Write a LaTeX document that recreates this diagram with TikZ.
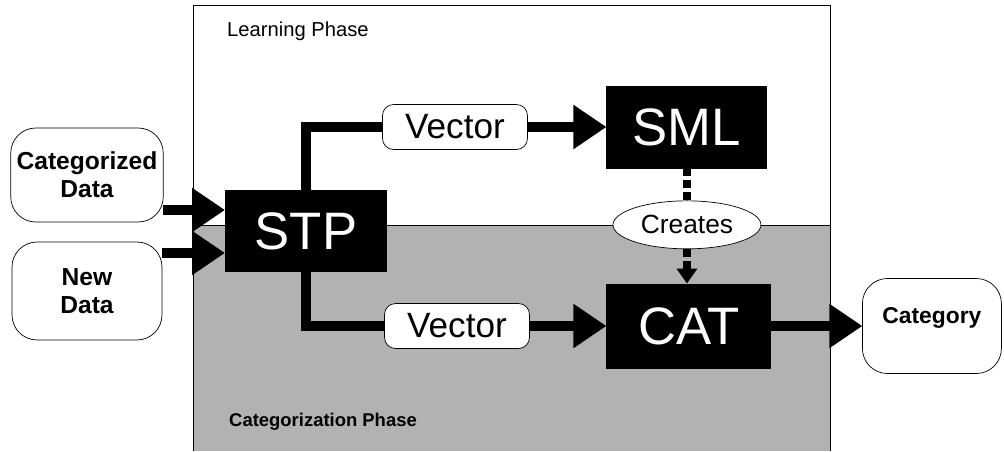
\documentclass[tikz,border=0pt]{standalone}
\usepackage{fontspec}
\setmainfont{Liberation Sans}
\usetikzlibrary{arrows.meta,positioning,shapes.geometric}

\begin{document}
\begin{tikzpicture}[x=0.02cm, y=-0.02cm,
    unit/.style={fill=black, text=white,%
      outer sep=0,%
      font=\fontsize{30}{30}\selectfont},
    src/.style={draw, rounded corners=0.5cm,%
      outer sep=0, minimum width=3cm,%
      align=center,%
      font=\fontsize{14}{16}\selectfont\bfseries},
    vec/.style={draw, fill=white, rounded corners=0.22cm,%
      outer sep=0, minimum width=2.9cm, minimum height=0.9cm,%
      font=\fontsize{20}{20}\selectfont},
    flow/.style={line width=0.2cm, -{Triangle[length=0.66cm,width=0.84cm]}},
    link/.style={line width=0.2cm, line join=miter},
    made/.style={line width=0.16cm, dash pattern=on 0.16cm off 0.08cm}
    ]
    \useasboundingbox (0,0) rectangle (1004,451);
    \fill[black!30] (193,225) rectangle (830,451);
    \draw (193,451) -- (193,5) -- (830,5) -- (830,451);
    \draw (193,225) -- (830,225);
    \node[anchor=west, font=\fontsize{11.5}{12}\selectfont] (lp) at (221,31) {Learning Phase};
    \node[anchor=west, font=\fontsize{10.5}{12}\selectfont\bfseries] (cp) at (223,422) {Categorization Phase};

    \node[src, minimum height=1.88cm] (cdata) at (87,175) {Categorized\\Data};
    \node[src, minimum height=1.96cm, below=0.4cm of cdata] (ndata) {New\\Data};
    \node[unit, minimum width=3.24cm, minimum height=1.64cm] (stp) at (306,231) {STP};

    \node[vec] (vtop) at (455,127) {Vector};
    \node[unit, minimum width=3.22cm, minimum height=1.66cm, right=1.58cm of vtop] (sml) {SML};
    \node[vec] (vbot) at (457,326) {Vector};
    \node[unit, minimum width=3.3cm, minimum height=1.7cm, right=1.54cm of vbot] (cat) {CAT};
    \node[draw, fill=white, ellipse, inner sep=0, minimum width=2.96cm, minimum height=0.96cm,%
      font=\fontsize{15}{15}\selectfont, below=0.64cm of sml] (mk) {Creates};
    \node[src, minimum width=2.78cm, minimum height=1.9cm, text depth=0.4cm,%
      font=\fontsize{13}{15}\selectfont\bfseries, right=1.82cm of cat] (outc) {Category};

    \foreach \src/\dy in {cdata/-0.7cm, ndata/0.76cm} {%
      \coordinate (in-\src) at ([yshift=\dy]\src.east);
      \draw[flow] (in-\src) -- (in-\src -| stp.west);
    }
    \draw[link] (stp.north) |- (vtop.west);
    \draw[link] (stp.south) |- (vbot.west);
    \draw[flow] (vtop) -- (sml);
    \draw[flow] (vbot) -- (cat);
    \draw[flow] (cat) -- (outc);
    \draw[made] (sml) -- (mk);
    \draw[made, -{Triangle[length=0.3cm,width=0.4cm]}] (mk.south) -- (mk.south |- cat.north);
  \end{tikzpicture}
\end{document}
